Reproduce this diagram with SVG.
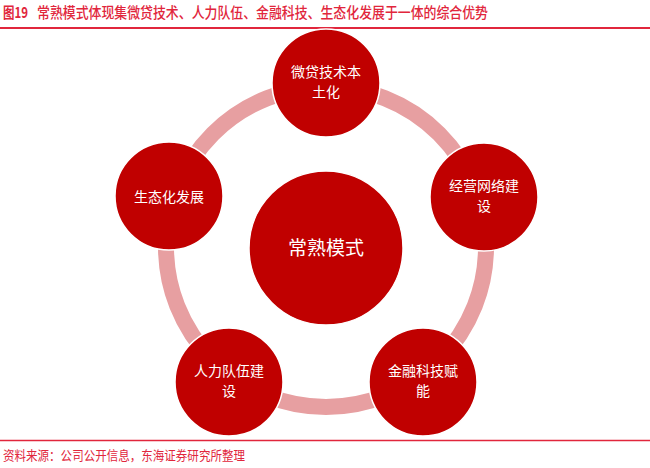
<svg xmlns="http://www.w3.org/2000/svg" width="650" height="468" viewBox="0 0 650 468">
<style>
.t{font-family:"Noto Sans CJK SC","Liberation Sans",sans-serif;}
.hd{fill:#E1263C;font-size:15px;}
.node circle{fill:#C00000;stroke:#fff;stroke-width:1.5;}
.node text{fill:#fff;font-size:14px;text-anchor:middle;}
.ring{fill:none;stroke:#E79FA1;stroke-width:16;}
</style>
<rect width="650" height="468" fill="#fff"/>
<text class="t hd" x="3" y="18" font-weight="bold" font-family="Liberation Sans,sans-serif" textLength="25" lengthAdjust="spacingAndGlyphs">图19</text>
<text class="t hd" x="37" y="18" font-weight="500" textLength="451" lengthAdjust="spacingAndGlyphs">常熟模式体现集微贷技术、人力队伍、金融科技、生态化发展于一体的综合优势</text>
<line x1="0" y1="28" x2="650" y2="28" stroke="#E1263C" stroke-width="2"/>
<g id="connectors">
<circle class="ring" cx="326" cy="247" r="160"/>
</g>
<g id="center" class="node">
<circle cx="326" cy="248" r="77"/>
<text class="t" x="326" y="255" style="font-size:19px">常熟模式</text>
</g>
<g id="n-top" class="node">
<circle cx="326" cy="83" r="54"/>
<text class="t" x="326" y="77">微贷技术本</text>
<text class="t" x="326" y="97">土化</text>
</g>
<g id="n-right" class="node">
<circle cx="484" cy="197" r="54"/>
<text class="t" x="484" y="191">经营网络建</text>
<text class="t" x="484" y="211">设</text>
</g>
<g id="n-bright" class="node">
<circle cx="423" cy="382" r="54"/>
<text class="t" x="423" y="376">金融科技赋</text>
<text class="t" x="423" y="396">能</text>
</g>
<g id="n-bleft" class="node">
<circle cx="229" cy="382" r="54"/>
<text class="t" x="229" y="376">人力队伍建</text>
<text class="t" x="229" y="396">设</text>
</g>
<g id="n-left" class="node">
<circle cx="169" cy="196" r="54"/>
<text class="t" x="169" y="202">生态化发展</text>
</g>
<line x1="0" y1="440.5" x2="650" y2="440.5" stroke="#E1263C" stroke-width="1.5"/>
<text class="t" x="3" y="460" fill="#E1263C" font-size="13" textLength="242" lengthAdjust="spacingAndGlyphs">资料来源：公司公开信息，东海证券研究所整理</text>
</svg>
